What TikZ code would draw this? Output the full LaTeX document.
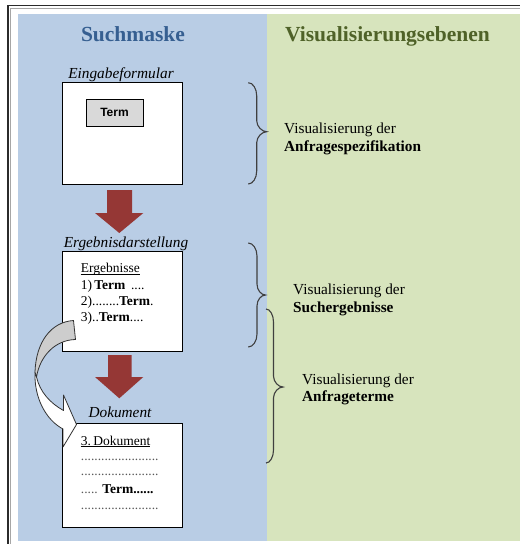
\documentclass[tikz,border=0pt]{standalone}
\usepackage{fontspec}
\setmainfont{Liberation Serif}
\newfontfamily\arialfont{Liberation Sans}
\definecolor{panelblue}{HTML}{B9CDE5}
\definecolor{panelgreen}{HTML}{D7E4BD}
\definecolor{headblue}{HTML}{365F91}
\definecolor{headgreen}{HTML}{4F6228}
\definecolor{flowred}{HTML}{953735}
\definecolor{termgrey}{HTML}{D9D9D9}
\definecolor{bendgrey}{HTML}{CDCDCD}
\definecolor{bracegrey}{HTML}{3F3F3F}
\definecolor{framedark}{HTML}{2B2B2B}
\definecolor{framelight}{HTML}{A6A6A6}

% right curly brace: #1 left end x, #2 stem x, #3 tip x, #4 top y, #5 tip y, #6 bottom y
\newcommand\rightcurl[6]{%
  \draw[bracestroke]
    (#1,#4) .. controls ({#1+0.55*(#2-#1)},#4) and (#2,{#4+6}) .. (#2,{#4+13})
    -- (#2,{#5-11}) .. controls (#2,{#5-5}) and ({#3-4.5},#5) .. (#3,#5)
    .. controls ({#3-4.5},#5) and (#2,{#5+5}) .. (#2,{#5+11})
    -- (#2,{#6-13}) .. controls (#2,{#6-6}) and ({#1+0.55*(#2-#1)},#6) .. (#1,#6);}

\tikzset{
  headtext/.style={font=\fontsize{21.5}{24}\selectfont\bfseries, inner sep=0pt, anchor=base},
  boxtitle/.style={font=\fontsize{15.3}{18}\selectfont\itshape, inner sep=0pt, anchor=base},
  screen/.style={draw=black, fill=white, line width=1pt, inner sep=0pt, minimum width=120pt},
  termfield/.style={draw=black, fill=termgrey, line width=0.9pt, inner sep=0pt,
    minimum width=57pt, minimum height=27pt,
    font=\arialfont\bfseries\fontsize{12}{14}\selectfont},
  bodytext/.style={font=\fontsize{13.5}{16}\selectfont, inner sep=0pt, anchor=base west},
  dotline/.style={bodytext, text=black!65},
  underrule/.style={line width=0.7pt},
  sidetext/.style={font=\fontsize{15.3}{18}\selectfont, inner sep=0pt, anchor=base west},
  bracestroke/.style={draw=bracegrey, line width=1.1pt},
  flowarrow/.style={fill=flowred},
  bendarrow/.style={draw=black!80, line width=0.8pt, line join=round},
}

\begin{document}
\begin{tikzpicture}[x=1pt, y=-1pt]
\useasboundingbox (0,0) rectangle (520,544);

% background panels
\fill[panelblue] (18,14) rectangle (267,541);
\fill[panelgreen] (267,14) rectangle (520,541);

% outer frame
\draw[framelight, line width=0.8pt] (9.9,544) -- (9.9,7.9) -- (520,7.9);
\draw[framedark, line width=1.6pt] (7.8,544) -- (7.8,5.6) -- (520,5.6);

% column headings
\node[headtext, text=headblue] (hsearch) at (133,41.7) {Suchmaske};
\node[headtext, text=headgreen] (hlevels) at (387.5,41.7) {Visualisierungsebenen};

% input form
\node[boxtitle] (tform) at (121,78.3) {Eingabeformular};
\node[screen, minimum height=102pt] (form) at (122,133) {};
\node[termfield] (term) at (114.5,112.5) {Term};

% result list
\node[boxtitle] (tres) at (126,247.5) {Ergebnisdarstellung};
\node[screen, minimum height=100pt] (results) at (122,301) {};
\node[bodytext] (r0) at (80.7,272.7) {Ergebnisse};
\draw[underrule] ([yshift=-1.8pt]r0.base west) -- ([yshift=-1.8pt]r0.base east);
\node[bodytext] (r1) at (80.7,289.2) {1)\,\textbf{Term} \,....};
\node[bodytext] (r2) at (80.7,305.2) {2)........\textbf{Term}.};
\node[bodytext] (r3) at (80.7,321.5) {3)..\textbf{Term}....};

% document view
\node[boxtitle] (tdoc) at (120,417.3) {Dokument};
\node[screen, minimum height=104pt] (doc) at (122,475) {};
\node[bodytext] (d0) at (80.7,445) {3.\,Dokument};
\draw[underrule] ([yshift=-1.8pt]d0.base west) -- ([yshift=-1.8pt]d0.base east);
\node[dotline] (d1) at (80.7,460) {.......................};
\node[dotline] (d2) at (80.7,475.5) {.......................};
\node[bodytext] (d3) at (80.7,493.3) {\textcolor{black!65}{.....} \textbf{Term......}};
\node[dotline] (d4) at (80.7,509) {.......................};

% block arrows between the screens
\fill[flowarrow] (107,190) -- (132,190) -- (132,213) -- (143.3,213) -- (119.3,233)
  -- (95,213) -- (107,213) -- cycle;
\fill[flowarrow] (108,355) -- (131.5,355) -- (131.5,377) -- (143.3,377) -- (119.3,398.3)
  -- (95,377) -- (108,377) -- cycle;

% curved arrow from the third hit to the document
\filldraw[bendarrow, fill=white]
  (35,372) .. controls (34,398) and (46,420) .. (63,429)
  -- (63,447) -- (76.5,424.5) -- (63.5,395) -- (63.5,410.5)
  .. controls (50,403) and (40,392) .. (36.5,377) -- cycle;
\filldraw[bendarrow, fill=bendgrey]
  (73.5,320.5) .. controls (51,322) and (36,342) .. (35,372)
  -- (36.5,377) .. controls (40,356) and (55,340) .. (75.5,339.5) -- cycle;

% braces and level descriptions
\rightcurl{248.3}{256.7}{266.7}{82.7}{131.7}{184}
\node[sidetext] (v1a) at (284,133.3) {Visualisierung der};
\node[sidetext] (v1b) at (284,151.7) {\textbf{Anfragespezifikation}};

\rightcurl{248.3}{257}{265.5}{243}{295}{347}
\node[sidetext] (v2a) at (293,294.5) {Visualisierung der};
\node[sidetext] (v2b) at (293,312.5) {\textbf{Suchergebnisse}};

\rightcurl{266}{273.5}{283}{309}{387}{463}
\node[sidetext] (v3a) at (302,384.5) {Visualisierung der};
\node[sidetext] (v3b) at (302,401.5) {\textbf{Anfrageterme}};
\end{tikzpicture}
\end{document}
